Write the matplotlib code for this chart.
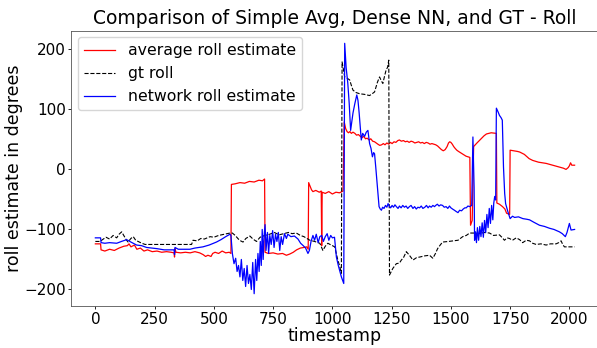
import matplotlib
matplotlib.use('Agg')
import matplotlib.pyplot as plt
import numpy as np

# values (timestamp, degrees)
t_avg = [0, 22, 24, 40, 60, 80, 100, 120, 135, 142, 150, 165, 175, 190, 205, 220, 240, 260, 280, 300,
         320, 332, 334, 336, 340, 360, 380, 400, 420, 440, 455, 465, 475, 488, 495, 505, 520, 535, 550, 565,
         572, 574, 590, 610, 630, 650, 670, 690, 705, 714, 716, 730, 750, 770, 790, 806, 820, 835, 849, 865,
         880, 892, 898, 900, 906, 912, 918, 930, 945, 953, 955, 957, 970, 985, 1000, 1015, 1030, 1045,
         1050, 1056, 1062, 1068, 1074, 1080, 1087, 1095, 1102, 1110, 1118, 1125, 1132, 1140, 1147, 1155, 1162, 1170,
         1178, 1185, 1192, 1200, 1208, 1215, 1222, 1230, 1238, 1245, 1252, 1260, 1268, 1276, 1283, 1291, 1300, 1308,
         1316, 1324, 1332, 1340, 1348, 1356, 1364, 1372, 1380, 1388, 1396, 1404, 1412, 1420, 1428, 1436, 1444, 1452,
         1460, 1468, 1476, 1484, 1490, 1495, 1500, 1506, 1512, 1518, 1525, 1532, 1540, 1548, 1556, 1564, 1572, 1580,
         1583, 1590, 1596, 1610, 1625, 1640,
         1650, 1670, 1692, 1694, 1705, 1718, 1728, 1735, 1748, 1750, 1765, 1780, 1790, 1810, 1830, 1845, 1870, 1902, 1930, 1958,
         1975, 1986, 1995, 2000, 2005, 2010, 2022]
avg_roll = [-124, -124, -134, -136, -133, -135, -131, -128, -127, -124, -129, -126, -133, -131, -136, -134, -137, -136, -138, -137,
            -138, -139, -146, -132, -138, -139, -138, -139, -137, -139, -142, -145, -143, -145, -140, -138, -140, -136, -139, -138,
            -140, -25, -24, -22, -23, -20, -21, -18, -19, -16, -138, -140, -139, -141, -140, -143, -141, -138, -134, -131,
            -130, -129, -133, -22, -28, -34, -37, -35, -38, -36, -127, -38, -40, -37, -41, -38, -39, -36,
            79, 68, 63, 61, 63, 60, 62, 60, 57, 58, 55, 53, 55, 51, 52, 49, 51, 47,
            46, 44, 42, 40, 41, 43, 41, 44, 42, 45, 43, 46, 45, 48, 49, 47, 48, 46,
            47, 45, 47, 46, 44, 45, 46, 44, 45, 43, 45, 44, 42, 43, 42, 41, 39, 36,
            33, 31, 33, 38, 44, 46, 45, 42, 38, 35, 32, 30, 28, 26, 24, 22, 21, 20,
            -93, -85, 38, 44, 50, 56,
            59, 61, 60, -56, -58, -62, -66, -73, -75, 32, 31, 30, 29, 25, 18, 15, 12, 10, 7, 4,
            2, 0, 3, 6, 11, 7, 7]

t_gt = [0, 20, 30, 45, 60, 75, 90, 100, 111, 120, 130, 138, 150, 160, 170, 185, 196, 210, 300, 406,
        412, 430, 445, 460, 484, 500, 520, 545, 568, 578, 590, 608, 623, 635, 652, 665, 680, 695, 715, 735,
        755, 775, 795, 815, 830, 848, 865, 880, 905, 925, 947, 960, 970, 981, 995, 1010, 1023, 1030, 1038, 1041,
        1047, 1052, 1062, 1073, 1080, 1087, 1100, 1115, 1135, 1157, 1168, 1178, 1190, 1199, 1206, 1213, 1220, 1227, 1233, 1238,
        1241, 1255, 1270, 1283, 1291, 1300, 1312, 1325, 1340, 1355, 1368, 1390, 1410, 1424, 1435, 1444, 1455, 1465, 1490, 1510,
        1530, 1550, 1565, 1579, 1600, 1621, 1640, 1663, 1680, 1705, 1715, 1726, 1737, 1747, 1760, 1776, 1790, 1803, 1818, 1832,
        1845, 1860, 1880, 1902, 1920, 1944, 1955, 1965, 1972, 1979, 2000, 2022]
gt_roll = [-120, -120, -117, -113, -116, -110, -114, -108, -104, -110, -117, -121, -115, -112, -118, -121, -123, -125, -125, -125,
           -118, -119, -115, -116, -112, -113, -110, -108, -106, -106, -110, -118, -121, -115, -111, -116, -120, -113, -110, -108,
           -105, -109, -107, -105, -107, -106, -110, -112, -118, -120, -123, -135, -128, -123, -126, -129, -151, -160, -173, 179,
           165, 154, 152, 149, 140, 132, 128, 126, 125, 123, 126, 129, 145, 154, 148, 143, 155, 166, 170, 182,
           -176, -165, -157, -156, -151, -147, -137, -143, -151, -147, -146, -144, -143, -148, -140, -132, -126, -121, -120, -119,
           -118, -112, -110, -106, -106, -107, -105, -106, -110, -109, -113, -118, -114, -115, -118, -114, -117, -122, -118, -119,
           -123, -125, -124, -126, -124, -124, -122, -119, -125, -129, -129, -129]

t_net = [0, 22, 24, 40, 60, 90, 110, 132, 150, 174, 195, 216, 240, 260, 290, 315, 332, 334, 336, 350,
         399, 420, 454, 480, 511, 530, 550, 568, 572, 578, 585, 592, 598, 604, 610, 616, 622, 628, 634, 640,
         646, 652, 658, 664, 670, 676, 681, 686, 691, 696, 700, 704, 708, 712, 716, 720, 726, 731, 736, 742,
         748, 754, 760, 766, 772, 778, 784, 790, 798, 806, 812, 825, 840, 855, 866, 877, 887, 897, 903, 910,
         918, 925, 932, 940, 947, 955, 962, 970, 978, 985, 993, 1000, 1009, 1017, 1025, 1038, 1048, 1052, 1058, 1065,
         1071, 1077, 1082, 1087, 1095, 1103, 1108, 1113, 1118, 1122, 1128, 1136, 1143, 1150, 1157, 1163, 1169, 1174, 1178, 1183,
         1190,
         1197, 1202, 1207, 1212, 1218, 1224, 1230, 1235, 1240, 1246, 1252, 1258, 1264, 1270, 1277, 1283, 1290, 1297, 1304, 1311,
         1318, 1325, 1332, 1340, 1347, 1354, 1361, 1368, 1375, 1382, 1390, 1397, 1404, 1410, 1417, 1424, 1431, 1436, 1443, 1450,
         1457, 1465, 1472, 1480, 1487, 1494, 1500, 1507, 1515, 1522, 1530, 1537, 1545, 1552, 1559, 1565, 1572, 1579, 1588,
         1593, 1598, 1600, 1604, 1608, 1612, 1617, 1622, 1627, 1632, 1637, 1642, 1647,
         1652, 1657, 1662, 1667, 1672, 1677, 1681, 1685, 1689, 1692, 1700, 1705, 1712, 1717, 1722, 1727, 1731, 1741, 1750, 1760,
         1769, 1785, 1804, 1820, 1832, 1850, 1874, 1895, 1916, 1935, 1958, 1970, 1983, 1990, 2000, 2007, 2022]
net_roll = [-114, -114, -122, -123, -122, -123, -120, -117, -121, -126, -127, -130, -131, -132, -134, -134, -134, -142, -130, -133,
            -133, -131, -129, -126, -121, -117, -112, -108, -110, -140, -157, -148, -170, -160, -179, -150, -185, -165, -195, -160,
            -190, -175, -200, -155, -207, -150, -185, -140, -170, -120, -160, -100, -150, -110, -92, -135, -105, -140, -110, -125,
            -102, -130, -108, -120, -105, -135, -112, -125, -107, -115, -108, -112, -111, -116, -123, -127, -131, -140, -135, -120,
            -110, -118, -108, -122, -112, -110, -120, -112, -107, -118, -110, -114, -113, -146, -160, -179, -190, 210, 170, 144,
            110, 65, 80, 94, 110, 124, 115, 94, 70, 49, 60, 55, 62, 65, 43, 35, 21, 28, 26, 4,
            -30,
            -62, -66, -68, -63, -65, -60, -63, -57, -61, -64, -60, -63, -59, -62, -65, -61, -64, -60, -63, -61,
            -65, -62, -60, -65, -62, -66, -63, -64, -61, -65, -63, -60, -64, -61, -63, -60, -62, -60, -58, -61,
            -59, -60, -63, -62, -65, -61, -64, -66, -68, -70, -72, -68, -69, -66, -64, -64, -61, -62, -60,
            54, -30, -118, -104, -122, -97, -118, -95, -112, -89, -113, -85, -105,
            -75, -97, -65, -90, -60, -84, -56, -45, -51, 102, 95, 90, 86, 82, 4, -40, -57, -71, -82, -78,
            -80, -79, -82, -83, -84, -88, -93, -95, -98, -100, -104, -107, -112, -105, -90, -101, -100]

fig = plt.figure(figsize=(5.97, 3.48), dpi=100)
ax = fig.add_axes([0.1196, 0.1201, 0.883, 0.7914])

ax.plot(t_avg, avg_roll, color='red', lw=0.9, label='average roll estimate')
ax.plot(t_gt, gt_roll, color='black', lw=0.8, ls='--', label='gt roll')
ax.plot(t_net, net_roll, color='blue', lw=0.9, label='network roll estimate')

ax.set_xticks([0, 250, 500, 750, 1000, 1250, 1500, 1750, 2000])
ax.set_yticks([-200, -100, 0, 100, 200])
ax.tick_params(labelsize=11, length=2.4, width=0.6, pad=1.5)
for s in ax.spines.values():
    s.set_linewidth(0.6)
    s.set_color('#555555')
ax.set_xlabel('timestamp', fontsize=12.5, labelpad=0)
ax.set_ylabel('roll estimate in degrees', fontsize=12.5, labelpad=1)
ax.set_title('Comparison of Simple Avg, Dense NN, and GT - Roll', fontsize=13.5, pad=5)
ax.legend(loc='upper left', fontsize=11.3, borderaxespad=0.4)

fig.savefig('out.png', dpi=100)
